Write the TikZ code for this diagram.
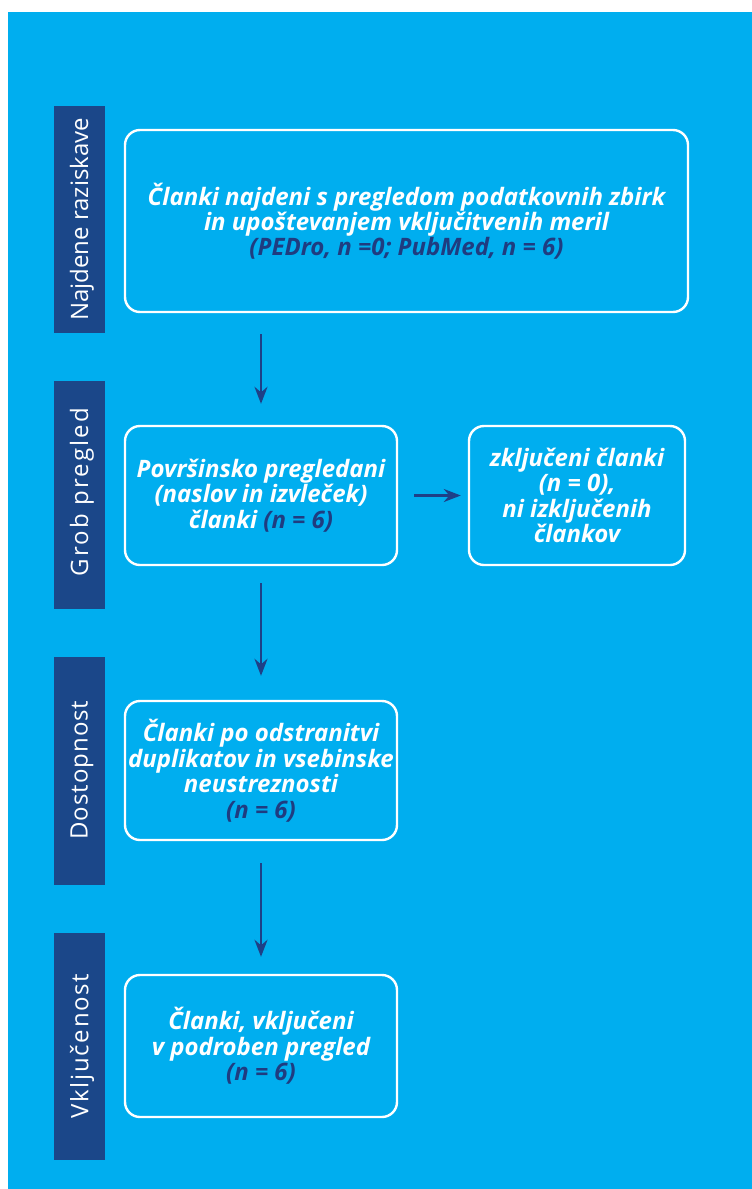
\documentclass[tikz,border=0pt]{standalone}
\usepackage{fontspec}
\usetikzlibrary{arrows.meta}
\newfontfamily\boxfont{Open Sans}
\newfontfamily\barfont{Open Sans}
\definecolor{bgblue}{RGB}{0,174,239}
\definecolor{barblue}{RGB}{27,71,137}
\definecolor{navy}{RGB}{31,60,128}
\definecolor{arrowblue}{RGB}{30,64,135}
\begin{document}
\begin{tikzpicture}[x=1pt,y=-1pt,
  stagebar/.style={fill=barblue,draw=none,minimum width=51pt,inner sep=0pt,anchor=north west},
  barlabel/.style={text=white,font=\barfont\fontsize{24}{28}\selectfont,rotate=90,inner sep=0pt},
  flowbox/.style={draw=white,line width=2.4pt,rounded corners=15pt,fill=none,inner sep=0pt,
    text=white,align=center,font=\boxfont\bfseries\itshape\fontsize{24}{25.5}\selectfont},
  flowarrow/.style={draw=arrowblue,line width=2.6pt,-{Stealth[length=17pt,width=13pt]}}]
\useasboundingbox (0,0) rectangle (752,1189);
\fill[bgblue] (8,12) rectangle (752,1189);
% stage bars
\node[stagebar,minimum height=227pt] (bar1) at (54,106) {};
\node[stagebar,minimum height=228pt] (bar2) at (54,381) {};
\node[stagebar,minimum height=228pt] (bar3) at (54,657) {};
\node[stagebar,minimum height=227pt] (bar4) at (54,933) {};
\node[barlabel] (lab1) at (82,219.5) {Najdene raziskave};
\node[barlabel] (lab2) at (82,492) {\addfontfeature{LetterSpace=9}Grob pregled};
\node[barlabel] (lab3) at (82,770) {\addfontfeature{LetterSpace=4}Dostopnost};
\node[barlabel] (lab4) at (82,1046) {\addfontfeature{LetterSpace=7}Vključenost};
% boxes
\node[flowbox,minimum width=563pt,minimum height=182pt,font=\boxfont\bfseries\itshape\fontsize{24}{23.5}\selectfont] (b1) at (406.5,221)
  {Članki najdeni s pregledom podatkovnih zbirk\\ in upoštevanjem vključitvenih meril\\ \textcolor{navy}{(PEDro, n =0; PubMed, n = 6)}};
\node[flowbox,minimum width=272pt,minimum height=139pt] (b2) at (261,495.5)
  {Površinsko pregledani\\ (naslov in izvleček)\\ članki \textcolor{navy}{(n = 6)}};
\node[flowbox,minimum width=216pt,minimum height=139pt] (b3) at (577,495.5)
  {zključeni članki\\ (n = 0),\\ ni izključenih\\ člankov};
\node[flowbox,minimum width=272pt,minimum height=139pt] (b4) at (261,770.5)
  {Članki po odstranitvi\\ duplikatov in vsebinske\\ neustreznosti\\ \textcolor{navy}{(n = 6)}};
\node[flowbox,minimum width=272pt,minimum height=142pt] (b5) at (261,1046)
  {Članki, vključeni\\ v podroben pregled\\ \textcolor{navy}{(n = 6)}};
% arrows
\draw[flowarrow,shorten <=21pt,shorten >=21pt] (b2.north |- b1.south) -- (b2.north);
\draw[flowarrow,shorten <=16pt,shorten >=7pt] (b2.east) -- (b3.west);
\draw[flowarrow,shorten <=17pt,shorten >=24pt] (b2.south) -- (b4.north);
\draw[flowarrow,shorten <=22pt,shorten >=17pt] (b4.south) -- (b5.north);
\end{tikzpicture}
\end{document}
